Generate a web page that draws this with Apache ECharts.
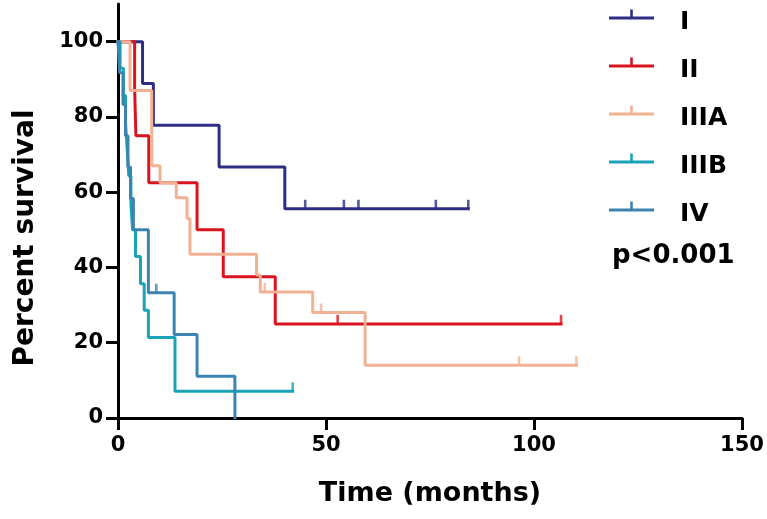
<!DOCTYPE html>
<html>
<head>
<meta charset="utf-8">
<script src="https://cdn.jsdelivr.net/npm/echarts@6.0.0/dist/echarts.min.js"></script>
<style>
  html, body { margin: 0; padding: 0; background: #fff; }
  #chart { width: 767px; height: 519px; }
</style>
</head>
<body>
<div id="chart"></div>
<script>
// group names and colours
const groups = ['I', 'II', 'IIIA', 'IIIB', 'IV'];
const colors = ['#2d2e83', '#d9141f', '#f3b193', '#19a3b5', '#3b83b1'];

// Kaplan-Meier steps (months, percent survival after the event)
const timesI = [0, 5.9, 8.5, 24.3, 40.1, 84.2];
const survI = [100, 88.9, 77.8, 66.7, 55.6, 55.6];
const censorI = [45, 54.3, 57.8, 76.4, 84.2];
const censorSurvI = [55.6, 55.6, 55.6, 55.6, 55.6];

const timesII = [0, 4.0, 4.3, 7.4, 19.0, 25.3, 37.8, 106.5];
const survII = [100, 87.5, 75, 62.5, 50, 37.5, 25, 25];
const censorII = [52.8, 106.5];
const censorSurvII = [25, 25];

const timesIIIA = [0, 2.9, 8.1, 10.1, 14.0, 16.6, 17.3, 33.3, 34.2, 46.8, 59.4, 110.2];
const survIIIA = [100, 87, 67, 62.5, 58.5, 53, 43.5, 38, 33.5, 28, 14, 14];
const censorIIIA = [35.3, 48.8, 96.4, 110.2];
const censorSurvIIIA = [33.5, 28, 14, 14];

const timesIIIB = [0, 0.5, 1.3, 1.8, 2.2, 2.6, 3.1, 3.5, 4.2, 5.4, 6.3, 7.3, 13.7, 42];
const survIIIB = [100, 92.9, 85.7, 78.6, 71.4, 64.3, 57.1, 50, 42.9, 35.7, 28.6, 21.4, 7.1, 7.1];
const censorIIIB = [42];
const censorSurvIIIB = [7.1];

const timesIV = [0, 0.4, 1.2, 1.8, 2.4, 3.0, 3.7, 7.3, 13.5, 19.0, 28.1];
const survIV = [100, 91.7, 83.3, 75, 66.7, 58.3, 50, 33.3, 22.2, 11.1, 0];
const censorIV = [9.2];
const censorSurvIV = [33.3];

// axis ticks
const xTicks = [0, 50, 100, 150];
const yTicks = [0, 20, 40, 60, 80, 100];
const pText = 'p<0.001';

const allTimes = [timesI, timesII, timesIIIA, timesIIIB, timesIV];
const allSurv = [survI, survII, survIIIA, survIIIB, survIV];
const allCensor = [censorI, censorII, censorIIIA, censorIIIB, censorIV];
const allCensorSurv = [censorSurvI, censorSurvII, censorSurvIIIA, censorSurvIIIB, censorSurvIV];

const font = 'DejaVu Sans';

function pairs(xs, ys) {
    return xs.map((x, i) => [x, ys[i]]);
}

// legend icon: a line with a small censor tick on top,
// the last moveTo only stretches the box so the line sits above the text middle
const legendIcon = 'path://M0,7L45,7L45,10L0,10ZM21.2,0L23.8,0L23.8,7L21.2,7ZM0,25';

const series = [];
groups.forEach((name, i) => {
    // survival curve
    series.push({
        name: name,
        type: 'line',
        step: 'end',
        showSymbol: false,
        data: pairs(allTimes[i], allSurv[i]),
        lineStyle: { color: colors[i], width: 3, cap: 'square' },
        itemStyle: { color: colors[i] },
        z: 2 + i,
    });
    // censor ticks
    series.push({
        name: name,
        type: 'scatter',
        symbol: 'rect',
        symbolSize: [2.6, 9],
        symbolOffset: [0, -4.5],
        data: pairs(allCensor[i], allCensorSurv[i]),
        itemStyle: { color: colors[i] },
        z: 2 + i,
    });
});

const chart = echarts.init(document.getElementById('chart'));
chart.setOption({
    animation: false,
    backgroundColor: '#fff',
    grid: { left: 118, right: 25, top: 4, bottom: 101 },
    legend: {
        orient: 'vertical',
        left: 609,
        top: 9.5,
        padding: 0,
        itemWidth: 45,
        itemHeight: 25,
        itemGap: 23,
        data: groups.map((g, i) => ({ name: g, icon: legendIcon, itemStyle: { color: colors[i] } })),
        textStyle: {
            fontFamily: font,
            fontWeight: 'bold',
            fontSize: 25,
            color: '#000',
            lineHeight: 25,
            padding: [0, 0, 0, 21],
        },
    },
    graphic: [{
        type: 'text',
        left: 612,
        top: 243,
        style: {
            text: pText,
            font: 'bold 26px "DejaVu Sans"',
            fill: '#000',
        },
    }],
    xAxis: {
        type: 'value',
        min: 0,
        max: 150,
        interval: 50,
        name: 'Time (months)',
        nameLocation: 'middle',
        nameGap: 62,
        nameTextStyle: { fontFamily: font, fontWeight: 'bold', fontSize: 27, color: '#000' },
        axisLine: { lineStyle: { color: '#000', width: 3 } },
        axisTick: { length: 12, lineStyle: { color: '#000', width: 3 }, customValues: xTicks },
        axisLabel: { margin: 17, fontFamily: font, fontWeight: 'bold', fontSize: 21, color: '#000', customValues: xTicks },
        splitLine: { show: false },
    },
    yAxis: {
        type: 'value',
        min: 0,
        max: 110,
        name: 'Percent survival',
        nameLocation: 'middle',
        nameGap: 78,
        nameRotate: 90,
        nameTextStyle: { fontFamily: font, fontWeight: 'bold', fontSize: 28, color: '#000', padding: [0, 54, 0, 0] },
        axisLine: { lineStyle: { color: '#000', width: 3 } },
        axisTick: { length: 12, lineStyle: { color: '#000', width: 3 }, customValues: yTicks },
        axisLabel: { margin: 15, fontFamily: font, fontWeight: 'bold', fontSize: 21, color: '#000', customValues: yTicks },
        splitLine: { show: false },
    },
    series: series,
});
</script>
</body>
</html>
